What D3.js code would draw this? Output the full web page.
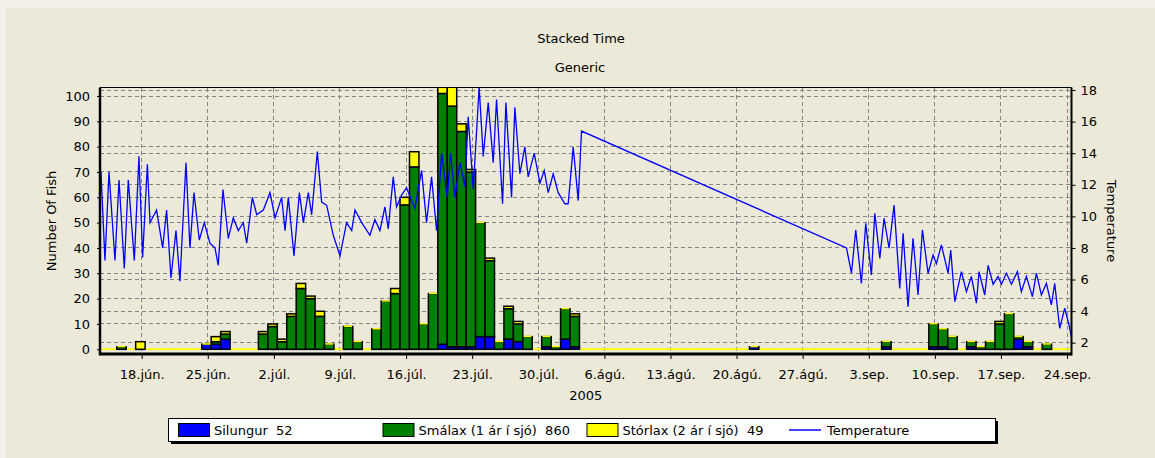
<!DOCTYPE html>
<html>
<head>
<meta charset="utf-8">
<script src="https://cdn.jsdelivr.net/npm/d3@7"></script>
<style>
    body { margin: 0; background: #f2f0e9; }
    svg { display: block; font-family: "DejaVu Sans", sans-serif; font-size: 13px; }
</style>
</head>
<body>
<svg width="1155" height="458"></svg>
<script>
// daily catch counts (one entry per day with a record)
const barDates = ["2005-06-14", "2005-06-16", "2005-06-18", "2005-06-25", "2005-06-26", "2005-06-27",
    "2005-07-01", "2005-07-02", "2005-07-03", "2005-07-04", "2005-07-05", "2005-07-06", "2005-07-07", "2005-07-08",
    "2005-07-10", "2005-07-11", "2005-07-13", "2005-07-14", "2005-07-15", "2005-07-16", "2005-07-17", "2005-07-18",
    "2005-07-19", "2005-07-20", "2005-07-21", "2005-07-22", "2005-07-23", "2005-07-24", "2005-07-25", "2005-07-26",
    "2005-07-27", "2005-07-28", "2005-07-29", "2005-07-31", "2005-08-01", "2005-08-02", "2005-08-03", "2005-08-22",
    "2005-09-05", "2005-09-10", "2005-09-11", "2005-09-12", "2005-09-14", "2005-09-15", "2005-09-16", "2005-09-17",
    "2005-09-18", "2005-09-19", "2005-09-20", "2005-09-22", "2005-09-24"];
const silungur = [0, 0, 0, 2, 2, 4, 0, 0, 0, 0, 0, 0, 0, 0, 0, 0, 0, 0, 0, 0, 0, 0, 0, 2, 1, 1, 1, 5, 5,
    0, 4, 3, 0, 1, 0, 4, 1, 1, 1, 1, 1, 0, 1, 0, 0, 0, 0, 4, 1, 0, 0];
const smalax = [0, 1, 0, 0, 1, 2, 6, 9, 3, 13, 24, 20, 13, 2, 9, 3, 8, 19, 22, 57, 72, 10, 22, 99, 95, 85, 69, 45, 30,
    3, 12, 7, 5, 4, 1, 12, 12, 0, 2, 9, 7, 5, 2, 1, 3, 10, 14, 1, 2, 2, 0];
const storlax = [0, 0, 3, 0, 2, 1, 1, 1, 1, 1, 2, 1, 2, 0, 0, 0, 0, 0, 2, 3, 6, 0, 0, 4, 8, 3, 1, 0, 1,
    0, 1, 1, 0, 0, 0, 0, 1, 0, 0, 0, 0, 0, 0, 0, 0, 1, 0, 0, 0, 0, 0];

// temperature, time as day counted from 1 June (31 = 1 July ...)
const tempDay = [13.69, 14.11, 14.54, 15.17, 15.60, 16.16, 16.58, 17.22, 17.71, 18.10, 18.60, 18.88, 19.58, 20.22,
    20.64, 21.10, 21.63, 22.05, 22.69, 23.11, 23.54, 24.10, 24.63, 25.23, 25.76, 26.11, 26.61, 27.17, 27.70, 28.23,
    28.76, 29.12, 29.72, 30.18, 30.88, 31.59, 32.12, 32.82, 33.18, 33.53, 34.13, 34.70, 35.12, 35.65, 36.00, 36.60,
    37.06, 37.59, 38.29, 39.00, 39.70, 40.24, 40.59, 41.30, 42.17, 42.70, 43.23, 43.76, 44.11, 44.64, 44.99, 45.52,
    46.05, 46.93, 47.64, 48.17, 48.70, 49.23, 49.76, 50.36, 50.71, 51.17, 51.70, 52.23, 52.58, 53.11, 53.74, 54.17,
    54.70, 55.23, 55.58, 56.22, 56.57, 57.17, 57.52, 58.05, 58.58, 58.93, 59.57, 60.17, 60.63, 61.05, 61.58, 62.11,
    62.81, 63.17, 63.70, 64.23, 64.58,
    92.64, 93.17, 93.62, 94.22, 94.68, 95.28, 95.64, 96.17, 96.62, 97.15, 97.68, 98.28, 98.64, 99.16, 99.69, 100.22,
    100.68, 101.28, 101.81, 102.16, 102.69, 103.40, 103.68, 104.11, 104.81, 105.34, 105.87, 106.40, 106.68, 107.28,
    107.64, 108.17, 108.69, 109.05, 109.58, 110.11, 110.74, 111.16, 111.69, 112.33, 112.75, 113.28, 113.81, 114.34,
    114.69, 115.22, 115.75, 116.21, 116.53];
const tempValue = [12.8, 7.2, 12.8, 7.2, 12.3, 6.7, 12.3, 7.2, 13.8, 7.4, 13.3, 9.6, 10.4, 8.0,
    10.4, 6.1, 9.1, 5.9, 13.4, 8.0, 11.5, 8.5, 9.6, 8.3, 8.0, 6.9, 11.7, 8.6, 9.9, 9.1,
    9.6, 8.3, 11.2, 10.1, 10.4, 11.5, 9.9, 11.2, 9.1, 11.2, 7.5, 11.5, 9.6, 11.5, 10.1, 14.1,
    10.9, 10.7, 8.8, 7.5, 9.6, 9.1, 10.4, 9.6, 8.8, 9.8, 9.1, 10.6, 9.2, 12.5, 10.6, 11.35,
    11.8, 10.5, 12.9, 9.6, 12.5, 9.1, 14.0, 11.2, 14.0, 11.2, 13.4, 11.9, 16.3, 11.7, 18.2, 13.8,
    17.2, 13.4, 17.4, 10.8, 17.2, 11.2, 16.9, 12.7, 14.4, 12.5, 14.0, 12.1, 12.9, 11.5, 12.7, 11.5,
    10.8, 10.8, 14.4, 11.0, 15.4,
    8.0, 6.4, 9.14, 5.76, 9.56, 6.29, 10.19, 7.34, 9.87, 7.98, 10.72, 5.44, 8.93, 4.28, 8.61, 5.02,
    9.14, 6.4, 7.55, 7.0, 8.19, 6.4, 7.87, 4.6, 6.5, 5.23, 6.2, 4.5, 6.5, 5.02,
    6.9, 5.7, 6.2, 5.7, 6.4, 5.7, 6.5, 5.23, 6.2, 4.92, 6.4, 5.02, 5.76, 4.39,
    5.76, 2.91, 4.18, 3.12, 2.17];

const fishTicks = [0, 10, 20, 30, 40, 50, 60, 70, 80, 90, 100];
const tempTicks = [2, 4, 6, 8, 10, 12, 14, 16, 18];
const xTickDays = ["2005-06-18", "2005-06-25", "2005-07-02", "2005-07-09", "2005-07-16", "2005-07-23", "2005-07-30",
    "2005-08-06", "2005-08-13", "2005-08-20", "2005-08-27", "2005-09-03", "2005-09-10", "2005-09-17", "2005-09-24"];
const xTickLabels = ["18.jún.", "25.jún.", "2.júl.", "9.júl.", "16.júl.", "23.júl.", "30.júl.",
    "6.ágú.", "13.ágú.", "20.ágú.", "27.ágú.", "3.sep.", "10.sep.", "17.sep.", "24.sep."];
const seriesNames = ["Silungur  52", "Smálax (1 ár í sjó)  860", "Stórlax (2 ár í sjó)  49"];
const seriesColors = ["#0000ff", "#008000", "#ffff00"];

(() => {
    const parseDay = d3.utcParse("%Y-%m-%d");
    const fromJuneDay = d => new Date(Date.UTC(2005, 5, 1) + (d - 1) * 864e5);

    let svg = d3.select("svg");
    const left = 100, right = 1071.5, top = 87.5, bottom = 354;

    // panel
    svg.append("rect").attr("x", 6).attr("y", 8).attr("width", 1149).attr("height", 450).attr("fill", "#ece9d8");

    let x = d3.scaleUtc().domain([fromJuneDay(13.585), fromJuneDay(116.47)]).range([left, right]);
    let yFish = d3.scaleLinear().domain([-1.86, 103.36]).range([bottom, top]);
    let yTemp = d3.scaleLinear().domain([1.284, 18.16]).range([bottom, top]);
    let tickDates = xTickDays.map(parseDay);

    // titles
    svg.append("text").attr("x", 581).attr("y", 43).attr("text-anchor", "middle").text("Stacked Time");
    svg.append("text").attr("x", 580).attr("y", 72).attr("text-anchor", "middle").text("Generic");

    // dashed grid
    let grid = svg.append("g")
        .attr("stroke", "#858585")
        .attr("stroke-dasharray", "4,3")
        .attr("shape-rendering", "crispEdges");
    grid.selectAll(".gf").data(fishTicks).join("line")
        .attr("x1", left).attr("x2", right)
        .attr("y1", d => yFish(d)).attr("y2", d => yFish(d));
    grid.selectAll(".gt").data(tempTicks).join("line")
        .attr("x1", left).attr("x2", right)
        .attr("y1", d => yTemp(d)).attr("y2", d => yTemp(d));
    grid.selectAll(".gx").data(tickDates).join("line")
        .attr("x1", d => x(d)).attr("x2", d => x(d))
        .attr("y1", top).attr("y2", bottom);

    svg.append("clipPath").attr("id", "plotClip")
        .append("rect").attr("x", left).attr("y", top).attr("width", right - left).attr("height", bottom - top);
    let plot = svg.append("g").attr("clip-path", "url(#plotClip)");

    // stacked bars
    let records = barDates.map((d, i) => ({ date: parseDay(d), v: [silungur[i], smalax[i], storlax[i]] }));
    let byDay = new Map(records.map(r => [+r.date, r]));
    let allDays = d3.utcDay.range(records[0].date, d3.utcDay.offset(records[records.length - 1].date, 1));
    let dayW = x(d3.utcDay.offset(allDays[0], 1)) - x(allDays[0]);
    let barX = d => x(d) - dayW / 2 - 1.3;
    let y0 = yFish(0);

    //zero lines at the base
    plot.selectAll(".zero")
        .data(allDays.filter(d => { let r = byDay.get(+d); return !r || r.v[0] === 0; }))
        .join("rect")
        .attr("x", d => barX(d)).attr("width", dayW)
        .attr("y", y0 - 1).attr("height", 1.8)
        .attr("fill", d => { let r = byDay.get(+d); return (!r || d3.sum(r.v) === 0) ? seriesColors[2] : seriesColors[0]; });

    let segs = [];
    records.forEach(r => {
        let total = d3.sum(r.v);
        if (!total) return;
        let acc = 0;
        r.v.forEach((v, k) => {
            segs.push({ date: r.date, k, lo: acc, hi: acc + v });
            acc += v;
        });
    });
    plot.selectAll(".seg")
        .data(segs.filter(s => s.hi > s.lo))
        .join("rect")
        .attr("x", d => barX(d.date)).attr("width", dayW)
        .attr("y", d => yFish(d.hi)).attr("height", d => yFish(d.lo) - yFish(d.hi))
        .attr("fill", d => seriesColors[d.k])
        .attr("stroke", "#000").attr("stroke-width", 1.5);
    // empty top segment shows as a thin yellow cap
    plot.selectAll(".cap")
        .data(segs.filter(s => s.k === 2 && s.hi === s.lo))
        .join("rect")
        .attr("x", d => barX(d.date) + 0.75).attr("width", dayW - 1.5)
        .attr("y", d => yFish(d.hi) - 1).attr("height", 1.5)
        .attr("fill", seriesColors[2]);

    // temperature line
    let temps = tempDay.map((d, i) => ({ t: fromJuneDay(d), v: tempValue[i] }));
    plot.append("path")
        .datum(temps)
        .attr("fill", "none")
        .attr("stroke", "#0000ff")
        .attr("stroke-width", 1.3)
        .attr("d", d3.line().x(d => x(d.t)).y(d => yTemp(d.v)));

    // axes
    let fixText = g => g.attr("font-family", null).attr("font-size", null);
    svg.append("g").attr("transform", `translate(${left},0)`)
        .call(d3.axisLeft(yFish).tickValues(fishTicks).tickSize(3).tickPadding(7))
        .call(fixText).call(g => g.select(".domain").remove());
    svg.append("g").attr("transform", `translate(${right},0)`)
        .call(d3.axisRight(yTemp).tickValues(tempTicks).tickSize(4).tickPadding(5))
        .call(fixText).call(g => g.select(".domain").remove());
    svg.append("g").attr("transform", `translate(0,${bottom})`)
        .call(d3.axisBottom(x).tickValues(tickDates).tickFormat((d, i) => xTickLabels[i]).tickSize(5).tickPadding(11))
        .call(fixText).call(g => g.select(".domain").remove());

    // frame
    let frame = svg.append("g").attr("stroke", "#000");
    frame.append("line").attr("x1", left).attr("x2", right).attr("y1", top).attr("y2", top).attr("stroke-width", 1);
    frame.append("line").attr("x1", left).attr("x2", left).attr("y1", top).attr("y2", bottom + 1.5).attr("stroke-width", 2.5);
    frame.append("line").attr("x1", right).attr("x2", right).attr("y1", top).attr("y2", bottom + 1.5).attr("stroke-width", 2);
    frame.append("line").attr("x1", left).attr("x2", right).attr("y1", bottom).attr("y2", bottom).attr("stroke-width", 3);

    // axis titles
    svg.append("text").attr("transform", "translate(51,221) rotate(-90)")
        .attr("text-anchor", "middle").attr("dy", "0.35em").text("Number Of Fish");
    svg.append("text").attr("transform", "translate(1112,221) rotate(90)")
        .attr("text-anchor", "middle").attr("dy", "0.35em").text("Temperature");
    svg.append("text").attr("x", (left + right) / 2).attr("y", 400).attr("text-anchor", "middle").text("2005");

    // legend
    let lg = svg.append("g");
    lg.append("rect").attr("x", 171).attr("y", 421).attr("width", 827).attr("height", 23).attr("fill", "#000");
    lg.append("rect").attr("x", 168.5).attr("y", 418.5).attr("width", 827).attr("height", 23)
        .attr("fill", "#fff").attr("stroke", "#000");
    const itemX = [178, 382.5, 586.5, 789];
    seriesNames.forEach((name, i) => {
        lg.append("rect").attr("x", itemX[i] + 0.5).attr("y", 423.5).attr("width", 31).attr("height", 13)
            .attr("fill", seriesColors[i]).attr("stroke", "#000");
        lg.append("text").attr("x", itemX[i] + 36).attr("y", 430).attr("dy", "0.35em")
            .attr("xml:space", "preserve").style("white-space", "pre").text(name);
    });
    lg.append("line").attr("x1", itemX[3]).attr("x2", itemX[3] + 32).attr("y1", 430).attr("y2", 430)
        .attr("stroke", "#4040ff").attr("stroke-width", 2);
    lg.append("text").attr("x", itemX[3] + 38).attr("y", 430).attr("dy", "0.35em").text("Temperature");
})();
</script>
</body>
</html>
